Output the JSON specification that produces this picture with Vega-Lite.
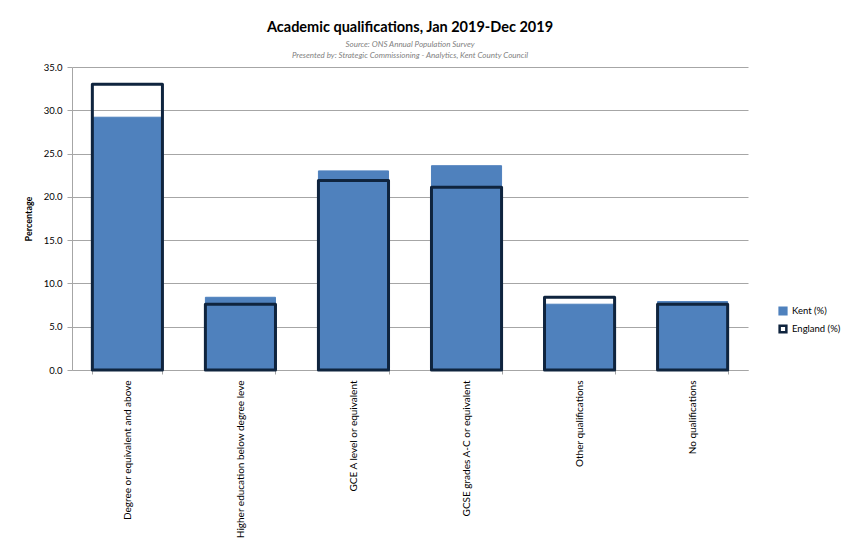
{
  "$schema": "https://vega.github.io/schema/vega-lite/v6.json",
  "width": 676,
  "height": 303,
  "autosize": {"type": "none"},
  "padding": {"left": 72, "top": 67, "right": 98, "bottom": 178},
  "background": "white",
  "config": {
    "font": "Lato",
    "view": {"stroke": null},
    "axis": {"labelFont": "Lato", "titleFont": "Lato"}
  },
  "title": {
    "text": "Academic qualifications, Jan 2019-Dec 2019",
    "subtitle": ["Source: ONS Annual Population Survey", "Presented by: Strategic Commissioning - Analytics, Kent County Council"],
    "font": "Lato",
    "fontSize": 14.5,
    "fontWeight": "bold",
    "color": "#000000",
    "subtitleFont": "Lato",
    "subtitleFontSize": 8,
    "subtitleFontStyle": "italic",
    "subtitleColor": "#7F7F7F",
    "subtitlePadding": 6,
    "subtitleLineHeight": 11,
    "anchor": "middle",
    "offset": 1
  },
  "data": {
    "values": [
      {"qualification": "Degree or equivalent and above", "series": "Kent (%)", "value": 29.2},
      {"qualification": "Higher education below degree leve", "series": "Kent (%)", "value": 8.4},
      {"qualification": "GCE A level or equivalent", "series": "Kent (%)", "value": 23.0},
      {"qualification": "GCSE grades A-C or equivalent", "series": "Kent (%)", "value": 23.6},
      {"qualification": "Other qualifications", "series": "Kent (%)", "value": 7.6},
      {"qualification": "No qualifications", "series": "Kent (%)", "value": 7.9},
      {"qualification": "Degree or equivalent and above", "series": "England (%)", "value": 33.0},
      {"qualification": "Higher education below degree leve", "series": "England (%)", "value": 7.6},
      {"qualification": "GCE A level or equivalent", "series": "England (%)", "value": 21.9},
      {"qualification": "GCSE grades A-C or equivalent", "series": "England (%)", "value": 21.1},
      {"qualification": "Other qualifications", "series": "England (%)", "value": 8.4},
      {"qualification": "No qualifications", "series": "England (%)", "value": 7.6}
    ]
  },
  "encoding": {
    "x": {
      "field": "qualification",
      "type": "nominal",
      "sort": null,
      "scale": {"paddingInner": 0.38, "paddingOuter": 0.18},
      "axis": {
        "title": null,
        "labelAngle": -90,
        "labelAlign": "right",
        "labelBaseline": "middle",
        "labelFontSize": 10,
        "labelColor": "#000000",
        "labelPadding": 6,
        "labelLimit": 170,
        "tickBand": "extent",
        "tickSize": 4,
        "tickColor": "#A6A6A6",
        "domainColor": "#A6A6A6",
        "grid": false
      }
    },
    "y": {
      "field": "value",
      "type": "quantitative",
      "scale": {"domain": [0, 35]},
      "axis": {
        "title": "Percentage",
        "titleFontSize": 9,
        "titleFontWeight": "bold",
        "titleColor": "#000000",
        "titlePadding": 10,
        "values": [0, 5, 10, 15, 20, 25, 30, 35],
        "format": ".1f",
        "labelFontSize": 9.5,
        "labelColor": "#000000",
        "labelPadding": 5,
        "tickSize": 5,
        "tickColor": "#A6A6A6",
        "domainColor": "#A6A6A6",
        "gridColor": "#A6A6A6",
        "gridWidth": 1
      }
    }
  },
  "layer": [
    {
      "transform": [{"filter": "datum.series === 'Kent (%)'"}],
      "mark": {"type": "bar"},
      "encoding": {
        "fill": {
          "field": "series",
          "type": "nominal",
          "scale": {"domain": ["Kent (%)", "England (%)"], "range": ["#4F81BD", "#FFFFFF"]},
          "legend": {
            "title": null,
            "orient": "none",
            "legendX": 706,
            "legendY": 239,
            "symbolType": "square",
            "symbolSize": 45,
            "symbolStrokeWidth": 2.5,
            "labelFontSize": 9.5,
            "labelColor": "#000000",
            "rowPadding": 0
          }
        },
        "stroke": {
          "field": "series",
          "type": "nominal",
          "scale": {"domain": ["Kent (%)", "England (%)"], "range": ["#4F81BD", "#0F243E"]},
          "legend": {
            "title": null,
            "orient": "none",
            "legendX": 706,
            "legendY": 239,
            "symbolType": "square",
            "symbolSize": 45,
            "symbolStrokeWidth": 2.5,
            "labelFontSize": 9.5,
            "labelColor": "#000000",
            "rowPadding": 0
          }
        }
      }
    },
    {
      "transform": [{"filter": "datum.series === 'England (%)'"}],
      "mark": {"type": "bar", "fillOpacity": 0, "strokeWidth": 3, "strokeJoin": "round"},
      "encoding": {
        "stroke": {"field": "series", "type": "nominal"}
      }
    }
  ]
}
